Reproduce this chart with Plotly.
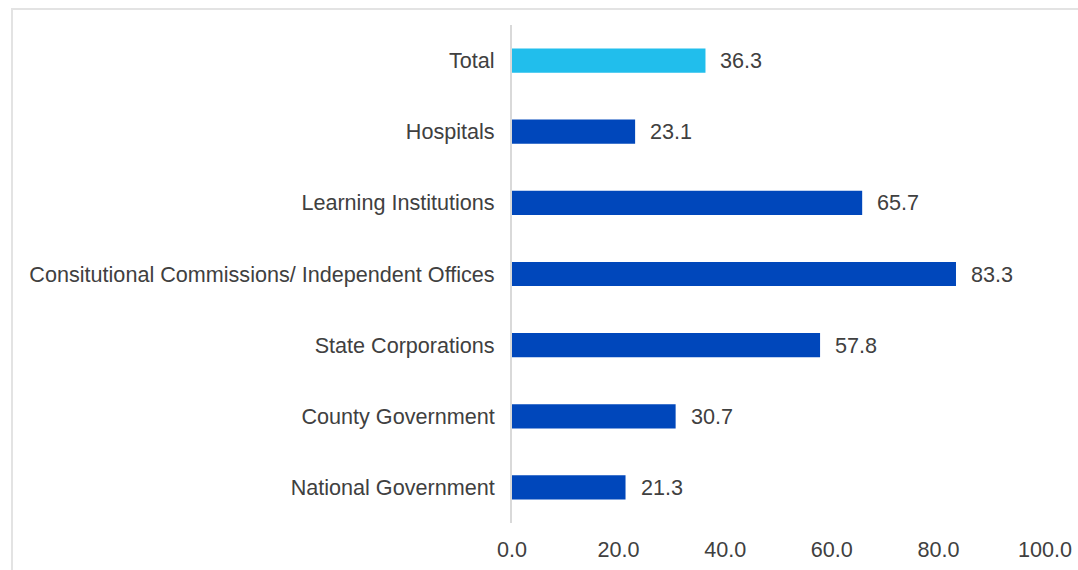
import plotly.graph_objects as go

# Sector values (top to bottom as displayed)
categories = [
    "Total",
    "Hospitals",
    "Learning Institutions",
    "Consitutional Commissions/ Independent Offices",
    "State Corporations",
    "County Government",
    "National Government",
]
values = [36.3, 23.1, 65.7, 83.3, 57.8, 30.7, 21.3]
x_ticks = [0, 20, 40, 60, 80, 100]
x_tick_labels = ["0.0", "20.0", "40.0", "60.0", "80.0", "100.0"]

# Plotly draws the first category at the bottom, so reverse for display
cats_plot = categories[::-1]
vals_plot = values[::-1]
colors = ["#21BEEC" if c == "Total" else "#0047BB" for c in cats_plot]

text_color = "#404040"
font_family = "Liberation Sans, Arial, sans-serif"
font_size = 21.6

fig = go.Figure(
    go.Bar(
        x=vals_plot,
        y=cats_plot,
        orientation="h",
        marker=dict(color=colors, line=dict(width=0)),
        hoverinfo="skip",
    )
)

# Value labels to the right of each bar
for c, v in zip(cats_plot, vals_plot):
    fig.add_annotation(
        x=v, y=c, text=f"{v:.1f}", showarrow=False,
        xanchor="left", xshift=13,
        font=dict(size=font_size, color=text_color, family=font_family),
    )

# Light frame around the chart area
fig.add_shape(
    type="rect", xref="paper", yref="paper",
    x0=(12 - 512) / 533, x1=1.2, y0=-0.2, y1=(523 - 9) / 498,
    line=dict(color="#e3e3e3", width=2), layer="below",
)

fig.update_layout(
    width=1078, height=570,
    margin=dict(l=512, r=33, t=25, b=47, autoexpand=False),
    paper_bgcolor="white", plot_bgcolor="white",
    bargap=0.66,
    showlegend=False,
    font=dict(family=font_family, size=font_size, color=text_color),
    xaxis=dict(
        range=[0, 100], tickvals=x_ticks, ticktext=x_tick_labels,
        showgrid=False, zeroline=False, showline=False,
        ticks="", ticklabelstandoff=11, automargin=False,
        tickfont=dict(size=font_size, color=text_color),
        fixedrange=True,
    ),
    yaxis=dict(
        categoryorder="array", categoryarray=cats_plot,
        showgrid=False, zeroline=False,
        showline=True, linecolor="#d9d9d9", linewidth=2,
        ticks="", ticklabelstandoff=11, automargin=False,
        tickfont=dict(size=font_size, color=text_color),
        fixedrange=True,
    ),
)

fig.write_html("out.html")
